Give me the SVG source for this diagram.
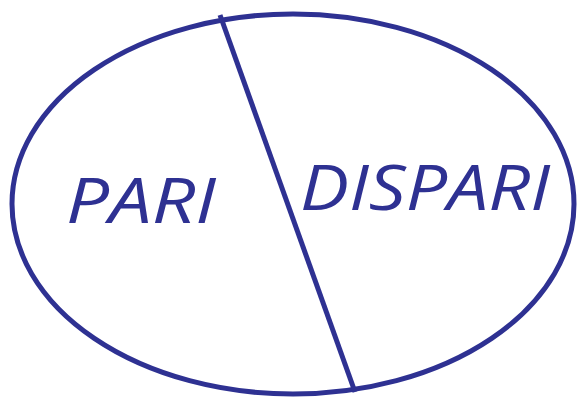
<svg xmlns="http://www.w3.org/2000/svg" width="579" height="403" viewBox="0 0 579 403">
<style>
.s{fill:none;stroke:#2e3192;stroke-width:5}
.t{font-family:"Open Sans","DejaVu Sans",sans-serif;font-style:italic;font-weight:400;font-size:62px;fill:#2e3192}
</style>
<rect width="579" height="403" fill="#fff"/>
<g id="ellipse"><ellipse class="s" cx="293" cy="204" rx="281" ry="190"/></g>
<g id="connectors"><line class="s" x1="220" y1="15" x2="355" y2="392"/></g>
<g id="pari"><text class="t" x="66" y="223" textLength="150" lengthAdjust="spacingAndGlyphs">PARI</text></g>
<g id="dispari"><text class="t" x="300" y="210" textLength="250" lengthAdjust="spacingAndGlyphs">DISPARI</text></g>
</svg>
